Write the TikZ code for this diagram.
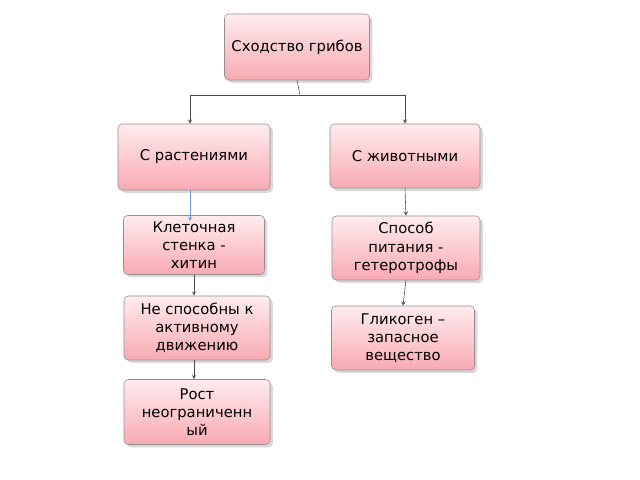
\documentclass[tikz,border=0pt]{standalone}
\usepackage{fontspec}
\setmainfont{DejaVu Sans}
\usetikzlibrary{positioning, shadows}
\definecolor{boxtop}{RGB}{255,236,238}
\definecolor{boxbot}{RGB}{248,170,178}
\definecolor{boxline}{RGB}{150,140,145}
\definecolor{bluearr}{RGB}{110,150,210}

\begin{document}
\begin{tikzpicture}[x=0.025cm,y=-0.025cm]
\tikzset{block/.style={rectangle,draw=boxline,rounded corners=3pt,top color=boxtop,bottom color=boxbot,
  drop shadow={shadow xshift=2pt,shadow yshift=-2pt,fill=gray!60},align=center,
  font=\fontsize{10.5}{13}\selectfont,inner sep=2pt}}
\tikzset{link/.style={draw=black!70,->,>=stealth,thin}}
\useasboundingbox (0,0) rectangle (640,480);

  \node [block, minimum width=145*0.025cm, minimum height=66*0.025cm] (fungi) at (297,47) {Сходство грибов};
  \node [block, minimum width=152*0.025cm, minimum height=66*0.025cm] (plants) at (194,157) {С растениями};
  \node [block, minimum width=150*0.025cm, minimum height=64*0.025cm] (animals) at (405,156) {С животными};

  \node [block, minimum width=141*0.025cm, minimum height=59*0.025cm] (wall) at (194,245) {Клеточная\\стенка -\\хитин};
  \node [block, minimum width=146*0.025cm, minimum height=64*0.025cm] (motion) at (197,328) {Не способны к\\активному\\движению};
  \node [block, minimum width=146*0.025cm, minimum height=65*0.025cm] (growth) at (197,412) {Рост\\неограниченн\\ый};

  \node [block, minimum width=148*0.025cm, minimum height=64*0.025cm] (food) at (406,248) {Способ\\питания -\\гетеротрофы};
  \node [block, minimum width=143*0.025cm, minimum height=64*0.025cm] (glyco) at (403,338) {Гликоген –\\запасное\\вещество};

\coordinate (split) at (300,95);
\draw [draw=black!70] (fungi.south) -- (split);
\draw [link] (split) -| ([xshift=-4*0.025cm]plants.north);
\draw [link] (split) -| (animals.north);
\draw [link, draw=bluearr] ([xshift=-4*0.025cm]plants.south) -- ([xshift=-4*0.025cm,yshift=-6*0.025cm]wall.north);
\draw [link] (wall.south) -- ([xshift=-3*0.025cm]motion.north);
\draw [link] ([xshift=-3*0.025cm]motion.south) -- ([xshift=-3*0.025cm]growth.north);
\draw [link] (animals.south) -- (food.north);
\draw [link] (food.south) -- (glyco.north);

\end{tikzpicture}
\end{document}
